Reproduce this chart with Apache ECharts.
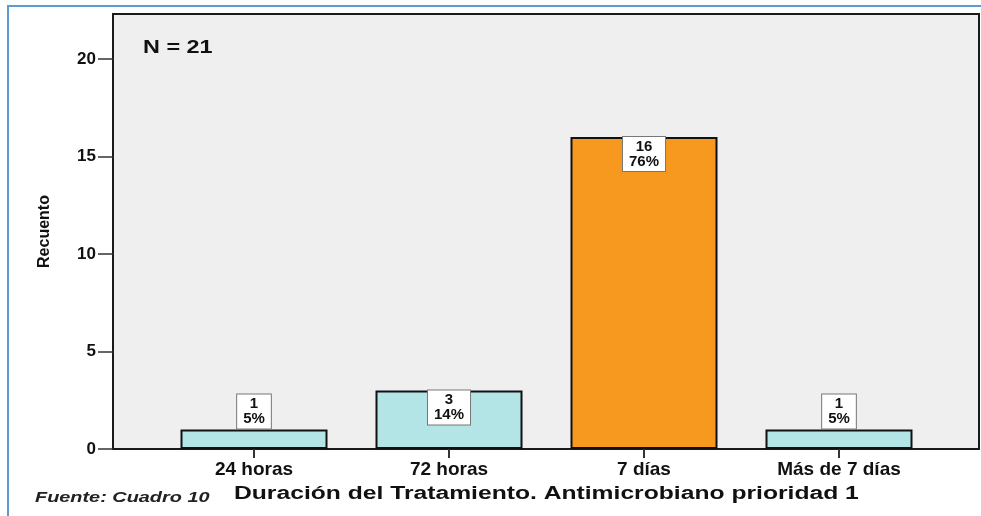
<!DOCTYPE html>
<html><head><meta charset="utf-8">
<script src="https://cdn.jsdelivr.net/npm/echarts@6/dist/echarts.min.js"></script>
<style>html,body{margin:0;padding:0;background:#fff}#c{width:981px;height:516px}</style>
</head><body><div id="c"></div>
<script>
const categories = ['24 horas', '72 horas', '7 días', 'Más de 7 días'];
const counts = [1, 3, 16, 1];
const percents = [5, 14, 76, 5];
const yTicks = [0, 5, 10, 15, 20];
const barColors = ['#B3E4E6', '#B3E4E6', '#F7991E', '#B3E4E6'];

const FONT = 'Liberation Sans, Arial, sans-serif';
const Y_MAX = 22.3;

const chart = echarts.init(document.getElementById('c'), null, {renderer: 'canvas'});
chart.setOption({
  animation: false,
  backgroundColor: '#ffffff',
  grid: [
    {left: 113, right: 2, top: 14, bottom: 67, show: true, backgroundColor: '#EFEFEF', borderColor: '#1a1a1a', borderWidth: 2},
    {left: 156.5, width: 780, top: 14, bottom: 67, show: false}
  ],
  xAxis: [
    {gridIndex: 0, type: 'category', data: categories, show: false},
    {gridIndex: 1, type: 'category', data: categories,
      axisLine: {show: false},
      axisTick: {show: true, alignWithLabel: true, length: 9, lineStyle: {color: '#333', width: 2}},
      axisLabel: {margin: 11, fontFamily: FONT, fontWeight: 'bold', fontSize: 19, color: '#111'}
    }
  ],
  yAxis: [
    {gridIndex: 0, type: 'value', min: 0, max: Y_MAX,
      name: 'Recuento', nameLocation: 'middle', nameGap: 60, nameRotate: 90,
      nameTextStyle: {fontFamily: FONT, fontWeight: 'bold', fontSize: 16, color: '#111'},
      axisLine: {show: true, lineStyle: {color: '#1a1a1a', width: 2}},
      axisTick: {show: true, length: 15, customValues: yTicks, lineStyle: {color: '#333', width: 1.5}},
      axisLabel: {customValues: yTicks, margin: 17, fontFamily: FONT, fontWeight: 'bold', fontSize: 17, color: '#111'},
      splitLine: {show: false}
    },
    {gridIndex: 1, type: 'value', min: 0, max: Y_MAX, show: false, splitLine: {show: false}}
  ],
  series: [{
    type: 'bar', xAxisIndex: 1, yAxisIndex: 1,
    barWidth: 147,
    data: counts.map((v, i) => ({
      value: v,
      itemStyle: {color: barColors[i], borderColor: '#111', borderWidth: 2},
      label: {position: v > 2 ? 'insideTop' : 'top', distance: v > 2 ? 0 : 1}
    })),
    label: {
      show: true,
      formatter: p => p.value + '\n' + percents[p.dataIndex] + '%',
      fontFamily: FONT, fontWeight: 'bold', fontSize: 15, lineHeight: 15, color: '#111',
      backgroundColor: '#ffffff', borderColor: '#777', borderWidth: 1, padding: [2, 6, 2, 6], align: 'center'
    }
  }],
  graphic: [
    {type: 'rect', silent: true, shape: {x: 8, y: 6, width: 1000, height: 600}, style: {fill: null, stroke: '#5B9BD5', lineWidth: 2}},
    {type: 'text', x: 143, y: 48, scaleX: 1.3, style: {text: 'N = 21', font: 'bold 18px ' + FONT, fill: '#111', textAlign: 'left', textVerticalAlign: 'middle'}},
    {type: 'text', x: 35, y: 498, scaleX: 1.42, style: {text: 'Fuente: Cuadro 10', font: 'italic bold 14px ' + FONT, fill: '#222', textAlign: 'left', textVerticalAlign: 'middle'}},
    {type: 'text', x: 234, y: 494, scaleX: 1.37, style: {text: 'Duración del Tratamiento. Antimicrobiano prioridad 1', font: 'bold 18px ' + FONT, fill: '#111', textAlign: 'left', textVerticalAlign: 'middle'}}
  ]
});
</script></body></html>
